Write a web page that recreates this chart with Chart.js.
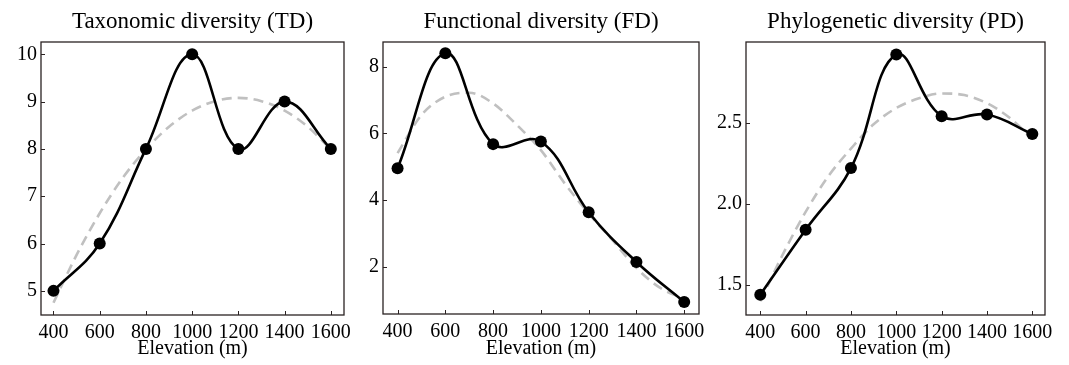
<!DOCTYPE html>
<html>
<head>
<meta charset="utf-8">
<script src="https://cdn.jsdelivr.net/npm/chart.js@4.4.1/dist/chart.umd.min.js"></script>
<style>
  body { margin: 0; background: #fff; }
  .panel { position: absolute; top: 0; }
</style>
</head>
<body>
<div class="panel" style="left:0px"><canvas id="td" width="360" height="365"></canvas></div>
<div class="panel" style="left:360px"><canvas id="fd" width="355" height="365"></canvas></div>
<div class="panel" style="left:715px"><canvas id="pd" width="354" height="365"></canvas></div>
<script>
// Datos
const elevation = [400, 600, 800, 1000, 1200, 1400, 1600];
const tdValues = [5, 6, 8, 10, 8, 9, 8];
const fdValues = [4.96, 8.40, 5.68, 5.76, 3.64, 2.15, 0.95];
const pdValues = [1.44, 1.84, 2.22, 2.92, 2.54, 2.55, 2.43];

// Curvas de ajuste (línea discontinua gris)
const fitElevation = [400, 500, 600, 700, 800, 900, 1000, 1100, 1200, 1300, 1400, 1500, 1600];
const tdFit = [4.75, 5.76, 6.64, 7.39, 7.99, 8.47, 8.81, 9.01, 9.08, 9.01, 8.81, 8.47, 7.99];
const fdFit = [5.41, 6.55, 7.10, 7.22, 6.90, 6.25, 5.50, 4.50, 3.60, 2.80, 1.97, 1.37, 1.05];
const pdFit = [1.40, 1.69, 1.95, 2.17, 2.34, 2.49, 2.59, 2.65, 2.68, 2.67, 2.62, 2.53, 2.40];

// Etiquetas de los ejes
const xTicks = [400, 600, 800, 1000, 1200, 1400, 1600];
const tdTicks = [5, 6, 7, 8, 9, 10];
const fdTicks = [2, 4, 6, 8];
const pdTicks = [1.5, 2.0, 2.5];
const pdTickLabels = ['1.5', '2.0', '2.5'];

const FONT = '"Liberation Serif", "Times New Roman", serif';
const FRAME = '#2a2222';

// Marco completo y marcas de graduación hacia dentro
const framePlugin = {
    id: 'frame',
    afterDraw(chart) {
        const { ctx, chartArea: a, scales } = chart;
        ctx.save();
        ctx.strokeStyle = FRAME;
        ctx.lineWidth = 1.3;
        ctx.strokeRect(a.left, a.top, a.right - a.left, a.bottom - a.top);
        ctx.lineWidth = 1;
        ctx.beginPath();
        scales.x.ticks.forEach(t => {
            const px = Math.round(scales.x.getPixelForValue(t.value)) + 0.5;
            ctx.moveTo(px, a.bottom);
            ctx.lineTo(px, a.bottom - 4);
        });
        scales.y.ticks.forEach(t => {
            const py = Math.round(scales.y.getPixelForValue(t.value)) + 0.5;
            ctx.moveTo(a.left, py);
            ctx.lineTo(a.left + 4, py);
        });
        ctx.stroke();
        ctx.restore();
    }
};

function makePanel(canvasId, cfg) {
    const points = elevation.map((x, i) => ({ x: x, y: cfg.values[i] }));
    const fit = fitElevation.map((x, i) => ({ x: x, y: cfg.fit[i] }));
    const ctx = document.getElementById(canvasId).getContext('2d');
    return new Chart(ctx, {
        type: 'line',
        data: {
            datasets: [{
                data: points,
                borderColor: '#000',
                backgroundColor: '#000',
                borderWidth: 2.6,
                tension: 0.4,
                pointRadius: 6,
                pointBorderWidth: 0
            }, {
                data: fit,
                borderColor: '#c0c0c0',
                borderWidth: 2.6,
                borderDash: [10, 6],
                cubicInterpolationMode: 'monotone',
                pointRadius: 0
            }]
        },
        options: {
            responsive: false,
            animation: false,
            devicePixelRatio: 1,
            layout: { padding: { left: 0, right: cfg.padRight, top: 0, bottom: 0 } },
            plugins: {
                legend: { display: false },
                tooltip: { enabled: false },
                title: {
                    display: true,
                    text: cfg.title,
                    fullSize: false,
                    color: '#000',
                    font: { family: FONT, size: 23, weight: 'normal' },
                    padding: { top: 8, bottom: 6.4 }
                }
            },
            scales: {
                x: {
                    type: 'linear',
                    min: cfg.xMin,
                    max: cfg.xMax,
                    afterBuildTicks: s => { s.ticks = xTicks.map(v => ({ value: v })); },
                    afterFit: s => { s.height = cfg.xHeight; },
                    grid: { display: false, drawTicks: false },
                    border: { display: false },
                    ticks: {
                        color: '#000',
                        padding: 6,
                        font: { family: FONT, size: 20 },
                        callback: v => String(v)
                    },
                    title: {
                        display: true,
                        text: 'Elevation (m)',
                        color: '#000',
                        font: { family: FONT, size: 20 },
                        padding: { top: 0, bottom: 4 }
                    }
                },
                y: {
                    type: 'linear',
                    min: cfg.yMin,
                    max: cfg.yMax,
                    afterBuildTicks: s => { s.ticks = cfg.ticks.map(v => ({ value: v })); },
                    afterFit: s => { s.width = cfg.yWidth; },
                    grid: { display: false, drawTicks: false },
                    border: { display: false },
                    ticks: {
                        color: '#000',
                        padding: 4,
                        font: { family: FONT, size: 20 },
                        callback: cfg.tickFormat
                    }
                }
            }
        },
        plugins: [framePlugin]
    });
}

makePanel('td', {
    title: 'Taxonomic diversity (TD)',
    values: tdValues, fit: tdFit, ticks: tdTicks,
    tickFormat: v => String(v),
    xMin: 346, xMax: 1657, yMin: 4.49, yMax: 10.26,
    yWidth: 41, padRight: 16, xHeight: 50
});

makePanel('fd', {
    title: 'Functional diversity (FD)',
    values: fdValues, fit: fdFit, ticks: fdTicks,
    tickFormat: v => String(v),
    xMin: 339, xMax: 1662, yMin: 0.59, yMax: 8.74,
    yWidth: 23, padRight: 16, xHeight: 51
});

makePanel('pd', {
    title: 'Phylogenetic diversity (PD)',
    values: pdValues, fit: pdFit, ticks: pdTicks,
    tickFormat: v => pdTickLabels[pdTicks.indexOf(v)],
    xMin: 337, xMax: 1656, yMin: 1.315, yMax: 2.997,
    yWidth: 31, padRight: 24, xHeight: 50
});
</script>
</body>
</html>
